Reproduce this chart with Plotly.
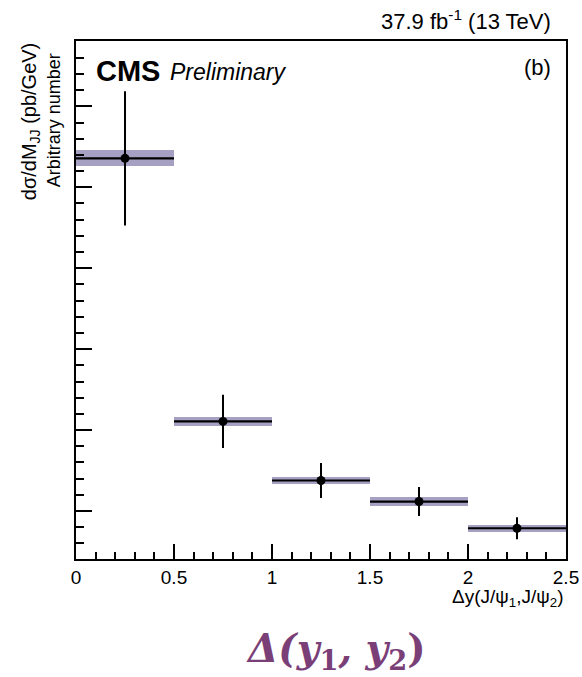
import plotly.graph_objects as go

# Data (arbitrary units)
bin_lo = [0.0, 0.5, 1.0, 1.5, 2.0]
bin_hi = [0.5, 1.0, 1.5, 2.0, 2.5]
values = [4.95, 1.70, 0.97, 0.71, 0.38]
stat_err = [0.83, 0.33, 0.215, 0.18, 0.135]
syst_err = [0.10, 0.055, 0.045, 0.055, 0.045]
x_ticks = [0, 0.5, 1, 1.5, 2, 2.5]
x_tick_labels = ["0", "0.5", "1", "1.5", "2", "2.5"]

centers = [(a + b) / 2 for a, b in zip(bin_lo, bin_hi)]
half_w = [(b - a) / 2 for a, b in zip(bin_lo, bin_hi)]
widths = [b - a for a, b in zip(bin_lo, bin_hi)]

fig = go.Figure()

# systematic band
fig.add_trace(go.Bar(
    x=centers,
    y=[2 * s for s in syst_err],
    base=[v - s for v, s in zip(values, syst_err)],
    width=widths,
    marker=dict(color="rgba(150,143,184,0.85)", line=dict(width=0)),
    showlegend=False,
    hoverinfo="skip",
))

# data points with error bars
fig.add_trace(go.Scatter(
    x=centers,
    y=values,
    mode="markers",
    marker=dict(color="black", size=9),
    error_y=dict(type="data", array=stat_err, color="black", thickness=2, width=0),
    error_x=dict(type="data", array=half_w, color="black", thickness=2.2, width=0),
    showlegend=False,
))

font_main = "Liberation Sans, Arial, sans-serif"

fig.update_layout(
    width=582,
    height=677,
    margin=dict(l=76, r=16, t=41, b=118),
    paper_bgcolor="white",
    plot_bgcolor="white",
    font=dict(family=font_main, color="black", size=18),
    bargap=0,
)

fig.update_xaxes(
    range=[0, 2.5],
    tickvals=x_ticks,
    ticktext=x_tick_labels,
    ticks="inside",
    ticklen=15,
    tickwidth=1.5,
    tickcolor="black",
    minor=dict(dtick=0.1, tick0=0, ticks="inside", ticklen=7, tickwidth=1.5, tickcolor="black"),
    showline=True,
    linecolor="black",
    linewidth=1.5,
    mirror=True,
    showgrid=False,
    zeroline=False,
    automargin=False,
    tickfont=dict(size=19, family=font_main),
)

fig.update_yaxes(
    range=[0, 6.4],
    tick0=0.593,
    dtick=1,
    ticks="inside",
    ticklen=16,
    tickwidth=1.5,
    tickcolor="black",
    minor=dict(dtick=0.2, tick0=0.593, ticks="inside", ticklen=8, tickwidth=1.5, tickcolor="black"),
    showticklabels=False,
    showline=True,
    linecolor="black",
    linewidth=1.5,
    mirror=True,
    showgrid=False,
    zeroline=False,
    automargin=False,
)

annotations = [
    dict(text="37.9 fb<sup>-1</sup> (13 TeV)", x=0.9735, y=1.0405, xref="paper", yref="paper",
         xanchor="right", yanchor="middle", showarrow=False, font=dict(size=22, family=font_main)),
    dict(text="<b>CMS</b>", x=0.036, y=0.942, xref="paper", yref="paper",
         xanchor="left", yanchor="middle", showarrow=False, font=dict(size=29, family=font_main)),
    dict(text="<i>Preliminary</i>", x=0.188, y=0.940, xref="paper", yref="paper",
         xanchor="left", yanchor="middle", showarrow=False, font=dict(size=23, family=font_main)),
    dict(text="(b)", x=0.9735, y=0.948, xref="paper", yref="paper",
         xanchor="right", yanchor="middle", showarrow=False, font=dict(size=22, family=font_main)),
    dict(text="dσ/dM<sub>JJ</sub> (pb/GeV)", x=-0.094, y=0.845, xref="paper", yref="paper",
         xanchor="center", yanchor="middle", textangle=-90, showarrow=False,
         font=dict(size=20, family=font_main)),
    dict(text="Arbitrary number", x=-0.045, y=0.847, xref="paper", yref="paper",
         xanchor="center", yanchor="middle", textangle=-90, showarrow=False,
         font=dict(size=18, family=font_main)),
    dict(text="Δy(J/ψ<sub>1</sub>,J/ψ<sub>2</sub>)", x=1.0, y=-0.075, xref="paper", yref="paper",
         xanchor="right", yanchor="middle", showarrow=False, font=dict(size=19, family=font_main)),
    dict(text="<b><i>Δ(y</i><sub>1</sub><i>, y</i><sub>2</sub>)</b>", x=0.5306, y=-0.176, xref="paper", yref="paper",
         xanchor="center", yanchor="middle", showarrow=False,
         font=dict(size=39, family="DejaVu Serif, serif", color="#7B3F78")),
]
fig.update_layout(annotations=annotations)

fig.write_html("out.html")
